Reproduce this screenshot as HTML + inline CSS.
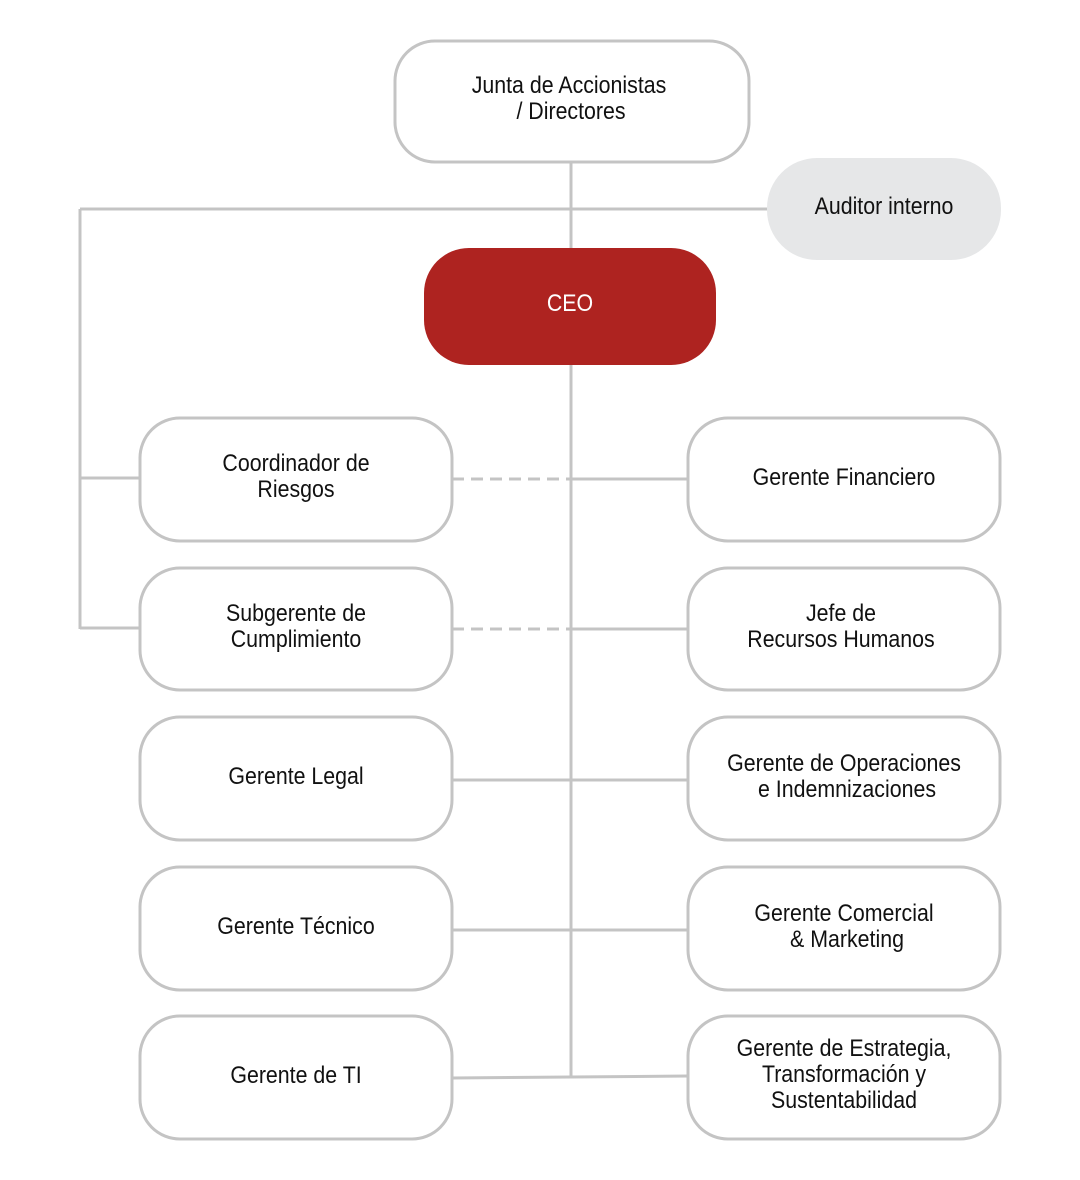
<!DOCTYPE html>
<html><head><meta charset="utf-8"><style>
html,body{margin:0;padding:0;background:#fff;}
svg{display:block;}
text{font-family:"Liberation Sans",sans-serif;font-size:24px;fill:#111;}
</style></head><body>
<svg width="1080" height="1180" viewBox="0 0 1080 1180" xmlns="http://www.w3.org/2000/svg">
<g stroke="#c4c4c4" stroke-width="3" fill="none">
<line x1="571" y1="162" x2="571" y2="1077"/>
<line x1="80" y1="209" x2="767" y2="209"/>
<line x1="80" y1="209" x2="80" y2="629"/>
<line x1="80" y1="478" x2="140" y2="478"/>
<line x1="80" y1="628" x2="140" y2="628"/>
<line x1="452" y1="479" x2="571" y2="479" stroke-dasharray="12,7"/>
<line x1="452" y1="629" x2="571" y2="629" stroke-dasharray="12,7"/>
<line x1="571" y1="479" x2="688" y2="479"/>
<line x1="571" y1="629" x2="688" y2="629"/>
<line x1="452" y1="780" x2="688" y2="780"/>
<line x1="452" y1="930" x2="688" y2="930"/>
<line x1="452" y1="1078" x2="571" y2="1077"/>
<line x1="571" y1="1077" x2="688" y2="1076"/>
</g>
<g stroke="#c4c4c4" stroke-width="3" fill="#fff">
<rect x="395" y="41" width="354" height="121" rx="40"/>
<rect x="140" y="418" width="312" height="123" rx="40"/>
<rect x="140" y="568" width="312" height="122" rx="40"/>
<rect x="140" y="717" width="312" height="123" rx="40"/>
<rect x="140" y="867" width="312" height="123" rx="40"/>
<rect x="140" y="1016" width="312" height="123" rx="40"/>
<rect x="688" y="418" width="312" height="123" rx="40"/>
<rect x="688" y="568" width="312" height="122" rx="40"/>
<rect x="688" y="717" width="312" height="123" rx="40"/>
<rect x="688" y="867" width="312" height="123" rx="40"/>
<rect x="688" y="1016" width="312" height="123" rx="40"/>
</g>
<rect x="767" y="158" width="234" height="102" rx="50" fill="#e6e7e8"/>
<rect x="424" y="248" width="292" height="117" rx="45" fill="#ae2320"/>
<g text-anchor="middle">
<text transform="translate(569,93) scale(0.89,1)">Junta de Accionistas</text>
<text transform="translate(571,119) scale(0.89,1)">/ Directores</text>
<text transform="translate(884,214) scale(0.89,1)">Auditor interno</text>
<text transform="translate(570,311) scale(0.89,1)" style="fill:#fff">CEO</text>
<text transform="translate(296,471) scale(0.89,1)">Coordinador de</text>
<text transform="translate(296,497) scale(0.89,1)">Riesgos</text>
<text transform="translate(296,621) scale(0.89,1)">Subgerente de</text>
<text transform="translate(296,647) scale(0.89,1)">Cumplimiento</text>
<text transform="translate(296,784) scale(0.89,1)">Gerente Legal</text>
<text transform="translate(296,934) scale(0.89,1)">Gerente Técnico</text>
<text transform="translate(296,1083) scale(0.89,1)">Gerente de TI</text>
<text transform="translate(844,485) scale(0.89,1)">Gerente Financiero</text>
<text transform="translate(841,621) scale(0.89,1)">Jefe de</text>
<text transform="translate(841,647) scale(0.89,1)">Recursos Humanos</text>
<text transform="translate(844,771) scale(0.89,1)">Gerente de Operaciones</text>
<text transform="translate(847,797) scale(0.89,1)">e Indemnizaciones</text>
<text transform="translate(844,921) scale(0.89,1)">Gerente Comercial</text>
<text transform="translate(847,947) scale(0.89,1)">&amp; Marketing</text>
<text transform="translate(844,1056) scale(0.89,1)">Gerente de Estrategia,</text>
<text transform="translate(844,1082) scale(0.89,1)">Transformación y</text>
<text transform="translate(844,1108) scale(0.89,1)">Sustentabilidad</text>
</g>
</svg>
</body></html>
